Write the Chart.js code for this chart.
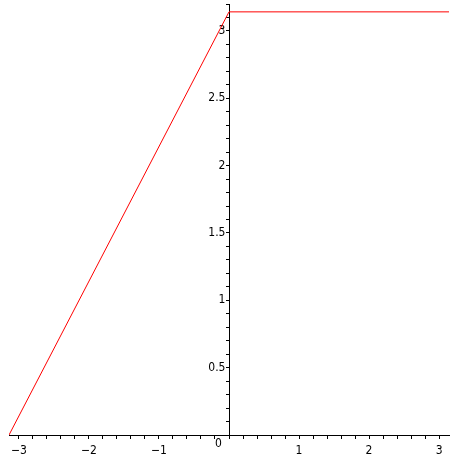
<!DOCTYPE html>
<html lang="en">
<head>
    <meta charset="UTF-8">
    <title>Plot</title>
    <script src="https://cdn.jsdelivr.net/npm/chart.js"></script>
    <style>
        html, body { margin: 0; padding: 0; background: #fff; }
        canvas { display: block; }
    </style>
</head>
<body>
    <canvas id="plot" width="459" height="459"></canvas>

    <script>
        // curve: rises from (-pi, 0) to (0, pi), then flat
        const xValues = [-3.1416, 0, 3.1416];
        const yValues = [0, 3.1416, 3.1416];

        // axis ranges and ticks
        const xRange = [-3.1416, 3.1416];
        const yRange = [0, 3.2];
        const xTicks = [-3, -2.8, -2.6, -2.4, -2.2, -2, -1.8, -1.6, -1.4, -1.2, -1, -0.8, -0.6, -0.4, -0.2, 0,
                        0.2, 0.4, 0.6, 0.8, 1, 1.2, 1.4, 1.6, 1.8, 2, 2.2, 2.4, 2.6, 2.8, 3];
        const xTickLabels = [-3, -2, -1, 1, 2, 3];
        const yTicks = [0, 0.1, 0.2, 0.3, 0.4, 0.5, 0.6, 0.7, 0.8, 0.9, 1, 1.1, 1.2, 1.3, 1.4, 1.5, 1.6,
                        1.7, 1.8, 1.9, 2, 2.1, 2.2, 2.3, 2.4, 2.5, 2.6, 2.7, 2.8, 2.9, 3, 3.1, 3.2];
        const yTickLabels = [0, 0.5, 1, 1.5, 2, 2.5, 3];

        // chart.js right-aligns centred y labels on the axis itself,
        // so a trailing 4px space keeps them clear of the tick marks
        const GAP = '\u2004';
        const FONT = '"Liberation Sans Narrow", "DejaVu Sans Condensed", "Liberation Sans", sans-serif';

        function fmt(v) {
            const s = String(v);
            return v < 0 ? '\u2212' + s.slice(1) : s;
        }
        function hasLabel(list, v) {
            return list.some(t => Math.abs(t - v) < 1e-9);
        }
        function noPadding(axis) {
            axis.paddingLeft = 0;
            axis.paddingRight = 0;
            axis.paddingTop = 0;
            axis.paddingBottom = 0;
        }

        const points = xValues.map((x, i) => ({ x: x, y: yValues[i] }));

        new Chart(document.getElementById('plot').getContext('2d'), {
            type: 'line',
            data: {
                datasets: [{
                    data: points,
                    borderColor: '#ff0000',
                    borderWidth: 1,
                    pointRadius: 0,
                    tension: 0,
                    fill: false
                }]
            },
            options: {
                responsive: false,
                animation: false,
                layout: { padding: { left: 9, right: 10, top: 4, bottom: 24 } },
                plugins: {
                    legend: { display: false },
                    tooltip: { enabled: false }
                },
                scales: {
                    x: {
                        type: 'linear',
                        min: xRange[0],
                        max: xRange[1],
                        position: { y: 0 },
                        grid: { display: true, drawOnChartArea: false, drawTicks: true, tickLength: 3, color: '#000' },
                        border: { display: true, color: '#000', width: 1 },
                        afterBuildTicks: axis => { axis.ticks = xTicks.map(v => ({ value: v })); },
                        afterFit: noPadding,
                        ticks: {
                            autoSkip: false,
                            maxRotation: 0,
                            padding: 6,
                            color: '#000',
                            font: { family: FONT, size: 12 },
                            callback: v => hasLabel(xTickLabels, v) ? fmt(v) : ''
                        }
                    },
                    y: {
                        type: 'linear',
                        min: yRange[0],
                        max: yRange[1],
                        position: { x: 0 },
                        grid: { display: true, drawOnChartArea: false, drawTicks: true, tickLength: 3, color: '#000' },
                        border: { display: true, color: '#000', width: 1 },
                        afterBuildTicks: axis => { axis.ticks = yTicks.map(v => ({ value: v })); },
                        afterFit: noPadding,
                        ticks: {
                            autoSkip: false,
                            color: '#000',
                            font: { family: FONT, size: 12, lineHeight: 1.5 },
                            // the zero label sits just under the x axis, as in the source
                            callback: v => {
                                if (!hasLabel(yTickLabels, v)) return '';
                                return v === 0 ? ['', '0' + GAP + GAP] : fmt(v) + GAP;
                            }
                        }
                    }
                }
            }
        });
    </script>
</body>
</html>
